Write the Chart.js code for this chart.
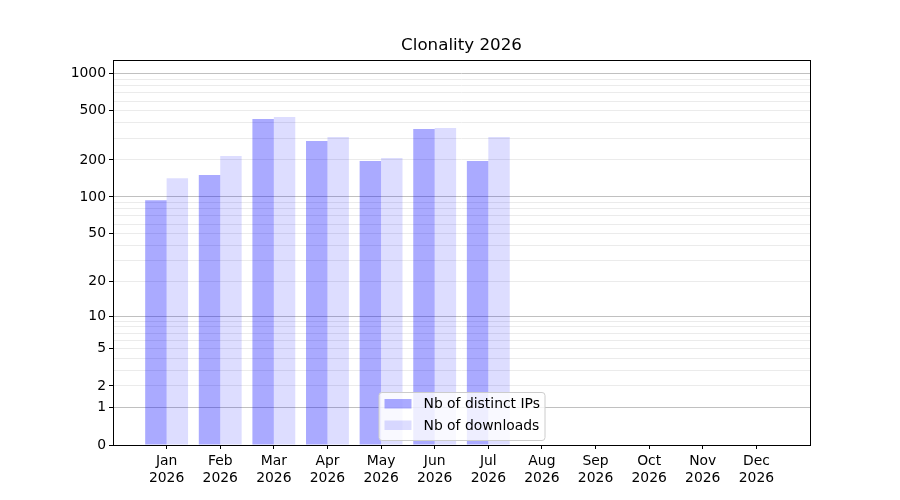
<!DOCTYPE html>
<html>
<head>
<meta charset="utf-8">
<script src="https://cdn.jsdelivr.net/npm/chart.js@4.4.1/dist/chart.umd.min.js"></script>
<style>
  html, body { margin: 0; padding: 0; background: #fff; }
  #wrap { width: 900px; height: 500px; }
</style>
</head>
<body>
<div id="wrap"><canvas id="clonalityChart" width="900" height="500"></canvas></div>
<script>
const months = ["Jan", "Feb", "Mar", "Apr", "May", "Jun", "Jul", "Aug", "Sep", "Oct", "Nov", "Dec"];
const year = "2026";
const distinctIPs = [94, 151, 429, 285, 196, 356, 196, 0, 0, 0, 0, 0];
const downloads = [142, 215, 445, 307, 207, 363, 307, 0, 0, 0, 0, 0];
const labeledTicks = [0, 1, 2, 5, 10, 20, 50, 100, 200, 500, 1000];
const minorTicks = [3, 4, 6, 7, 8, 9, 30, 40, 60, 70, 80, 90, 300, 400, 600, 700, 800, 900];
const decadeTicks = [1, 10, 100, 1000];
const yMaxValue = 1288;

// the y axis is log10(v + 1)
const toY = (v) => Math.log10(v + 1);
const fromY = (y) => Math.round(Math.pow(10, y) - 1);

const font = "'DejaVu Sans', sans-serif";

const frameTitleLegend = {
  id: "frameTitleLegend",
  afterDatasetsDraw(chart) {
    const { ctx, chartArea } = chart;
    const a = chartArea;
    ctx.save();
    // frame
    ctx.strokeStyle = "#000";
    ctx.lineWidth = 1;
    ctx.strokeRect(Math.round(a.left) + 0.5, Math.round(a.top) + 0.5,
      Math.round(a.right - a.left), Math.round(a.bottom - a.top));

    // title
    const cx = (a.left + a.right) / 2;
    ctx.fillStyle = "#000";
    ctx.font = "16.7px " + font;
    ctx.textAlign = "center";
    ctx.textBaseline = "middle";
    ctx.fillText("Clonality " + year, cx, a.top - 14);

    // legend, lower center inside the plot
    const w = 166, h = 48;
    const x0 = cx - w / 2, y0 = a.bottom - 5 - h;
    ctx.beginPath();
    ctx.roundRect(x0 + 0.5, y0 + 0.5, w, h, 3);
    ctx.fillStyle = "rgba(255,255,255,0.8)";
    ctx.fill();
    ctx.strokeStyle = "#cccccc";
    ctx.stroke();
    ctx.font = "13.9px " + font;
    ctx.textAlign = "left";
    chart.data.datasets.forEach((ds, i) => {
      const rowY = y0 + 11.5 + i * 21.5;
      ctx.fillStyle = ds.backgroundColor;
      ctx.fillRect(x0 + 6, rowY - 4.5, 27, 9.5);
      ctx.fillStyle = "#000";
      ctx.fillText(ds.label, x0 + 45, rowY + 1);
    });
    ctx.restore();
  },
};

const ctx = document.getElementById("clonalityChart").getContext("2d");
const myChart = new Chart(ctx, {
  type: "bar",
  data: {
    datasets: [
      {
        label: "Nb of distinct IPs",
        data: distinctIPs.map((v, i) => ({ x: i, y: toY(v) })),
        backgroundColor: "rgba(0, 0, 255, 0.333)",
        borderWidth: 0,
        categoryPercentage: 0.8,
        barPercentage: 1.0,
      },
      {
        label: "Nb of downloads",
        data: downloads.map((v, i) => ({ x: i, y: toY(v) })),
        backgroundColor: "rgba(0, 0, 255, 0.133)",
        borderWidth: 0,
        categoryPercentage: 0.8,
        barPercentage: 1.0,
      },
    ],
  },
  options: {
    responsive: false,
    animation: false,
    devicePixelRatio: 1,
    layout: { padding: { top: 60, right: 90, bottom: 0, left: 0 } },
    plugins: {
      legend: { display: false },
      title: { display: false },
      tooltip: { enabled: false },
    },
    scales: {
      x: {
        type: "linear",
        min: -1,
        max: 12,
        offset: false,
        afterBuildTicks: (scale) => {
          scale.ticks = months.map((m, i) => ({ value: i }));
        },
        afterFit: (scale) => { scale.height = 55; },
        grid: {
          offset: false,
          drawOnChartArea: false,
          drawTicks: true,
          tickLength: 4,
          tickColor: "#000",
        },
        border: { display: false },
        ticks: {
          autoSkip: false,
          maxRotation: 0,
          padding: 4,
          color: "#000",
          font: { family: font, size: 13.9 },
          callback: (value) => [months[value], year],
        },
      },
      y: {
        type: "linear",
        min: 0,
        max: toY(yMaxValue),
        afterBuildTicks: (scale) => {
          scale.ticks = labeledTicks.concat(minorTicks)
            .sort((p, q) => p - q)
            .map((v) => ({ value: toY(v) }));
        },
        afterFit: (scale) => { scale.width = 113; },
        grid: {
          drawTicks: true,
          tickLength: 4,
          color: (c) => {
            const v = fromY(c.tick.value);
            if (v === 0) return "rgba(0,0,0,0)";
            return decadeTicks.includes(v) ? "#c0c0c0" : "#ebebeb";
          },
          tickColor: (c) => labeledTicks.includes(fromY(c.tick.value)) ? "#000" : "rgba(0,0,0,0)",
        },
        border: { display: false },
        ticks: {
          autoSkip: false,
          padding: 3,
          color: "#000",
          font: { family: font, size: 13.9 },
          callback: (value) => {
            const v = fromY(value);
            return labeledTicks.includes(v) ? String(v) : "";
          },
        },
      },
    },
  },
  plugins: [frameTitleLegend],
});
</script>
</body>
</html>
